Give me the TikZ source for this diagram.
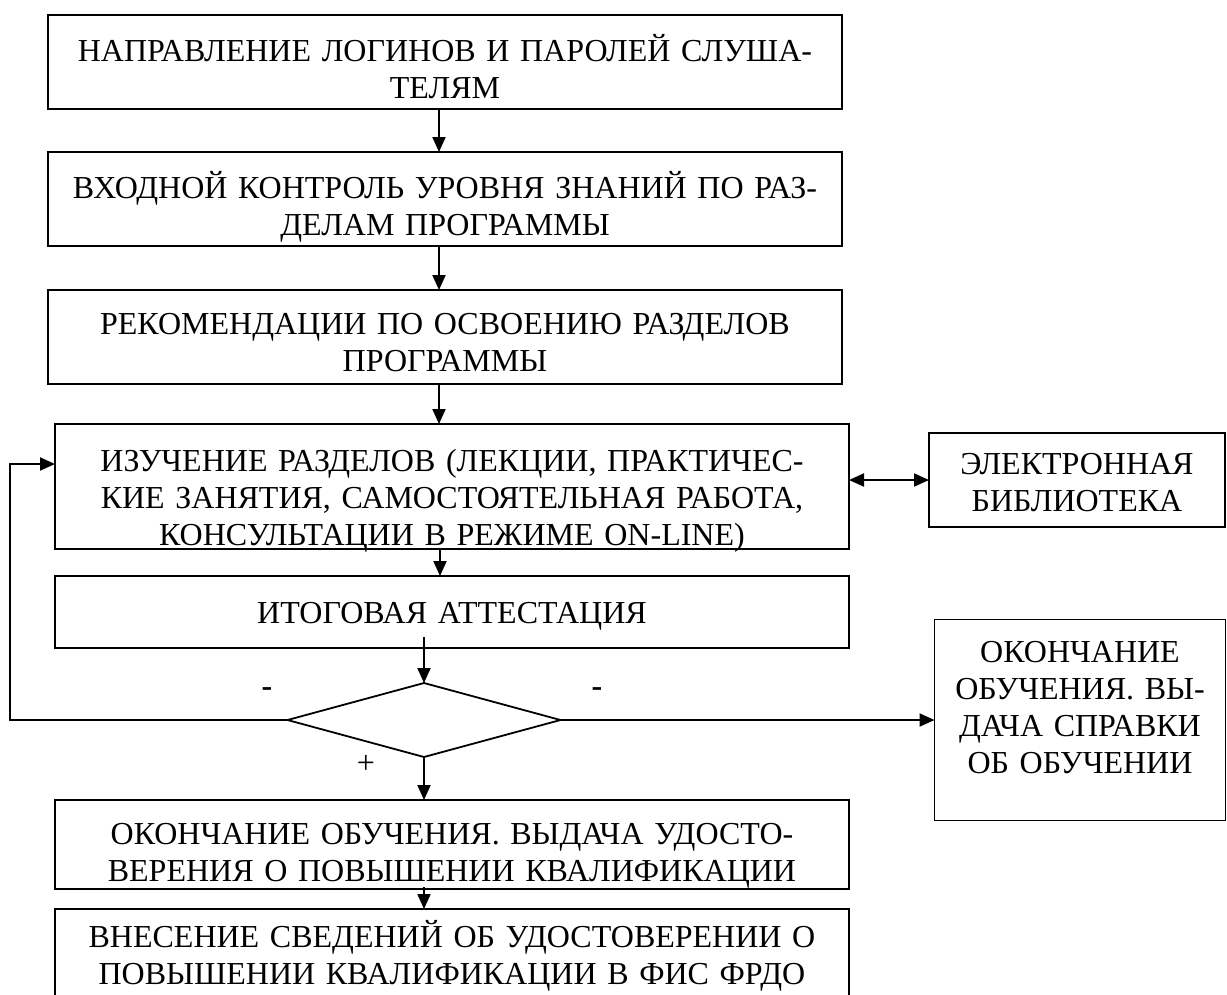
\documentclass[tikz,border=0pt]{standalone}
\usepackage{fontspec}
\setmainfont{Liberation Serif}
\usetikzlibrary{arrows.meta, positioning, shapes.geometric}

\begin{document}
\begin{tikzpicture}[
        x=1pt, y=-1pt,
        box/.style={draw, rectangle, line width=1.8pt, inner sep=0pt, outer sep=0pt, align=center,
            text width=794pt, font=\fontsize{32pt}{37pt}\selectfont},
        arr/.style={line width=2pt, -{Triangle[length=15pt, width=13pt]}},
        arr2/.style={line width=2pt, {Triangle[length=15pt, width=13pt]}-{Triangle[length=15pt, width=13pt]}},
        sign/.style={inner sep=0pt, font=\fontsize{32pt}{37pt}\selectfont},
    ]
    \useasboundingbox (0,0) rectangle (1227,994);

    \node[box, anchor=north, text height=46pt, text depth=48pt] (b1) at (445,15) {НАПРАВЛЕНИЕ ЛОГИНОВ И ПАРОЛЕЙ СЛУША-\\ТЕЛЯМ};
    \node[box, below=43pt of b1, text height=46pt, text depth=48pt] (b2) {ВХОДНОЙ КОНТРОЛЬ УРОВНЯ ЗНАНИЙ ПО РАЗ-\\ДЕЛАМ ПРОГРАММЫ};
    \node[box, below=44pt of b2, text height=44pt, text depth=50pt] (b3) {РЕКОМЕНДАЦИИ ПО ОСВОЕНИЮ РАЗДЕЛОВ\\ПРОГРАММЫ};
    \node[box, below=40pt of b3, xshift=7pt, text height=47pt, text depth=78pt] (b4) {ИЗУЧЕНИЕ РАЗДЕЛОВ (ЛЕКЦИИ, ПРАКТИЧЕС-\\КИЕ ЗАНЯТИЯ, САМОСТОЯТЕЛЬНАЯ РАБОТА,\\КОНСУЛЬТАЦИИ В РЕЖИМЕ ON-LINE)};
    \node[box, below=27pt of b4, text height=47pt, text depth=25pt] (b5) {ИТОГОВАЯ АТТЕСТАЦИЯ};
    \node[diamond, draw, line width=1.8pt, inner sep=0pt, outer sep=0pt, minimum width=273pt, minimum height=74pt,
        below=35pt of b5, xshift=-28pt] (d) {};
    \node[box, below=43pt of d, xshift=28pt, text height=44pt, text depth=45pt] (b6) {ОКОНЧАНИЕ ОБУЧЕНИЯ. ВЫДАЧА УДОСТО-\\ВЕРЕНИЯ О ПОВЫШЕНИИ КВАЛИФИКАЦИИ};
    \node[box, below=20pt of b6, text height=38pt, text depth=100pt] (b7) {ВНЕСЕНИЕ СВЕДЕНИЙ ОБ УДОСТОВЕРЕНИИ О\\ПОВЫШЕНИИ КВАЛИФИКАЦИИ В ФИС ФРДО};

    \node[box, right=80pt of b4, yshift=6.5pt, text width=296pt, text height=41pt, text depth=53pt] (lib) {ЭЛЕКТРОННАЯ\\БИБЛИОТЕКА};
    \node[box, right=374pt of d, text width=291pt, text height=43pt, text depth=158pt] (fin) {ОКОНЧАНИЕ\\ОБУЧЕНИЯ. ВЫ-\\ДАЧА СПРАВКИ\\ОБ ОБУЧЕНИИ};

    \node[sign] (minusL) at (267,692) {\textbf{-}};
    \node[sign] (minusR) at (597,692) {\textbf{-}};
    \node[sign] (plus) at (366,764) {+};
    \coordinate (loop) at (10,720);

    \draw[arr] ([xshift=-6pt]b1.south) -- ([xshift=-6pt]b2.north);
    \draw[arr] ([xshift=-6pt]b2.south) -- ([xshift=-6pt]b3.north);
    \draw[arr] ([xshift=-6pt]b3.south) -- ([xshift=-6pt]b3.south |- b4.north);
    \draw[arr] ([xshift=-12pt]b4.south) -- ([xshift=-12pt]b4.south |- b5.north);
    \draw[arr] ([yshift=11pt]b5.south -| d.north) -- (d.north);
    \draw[arr] (d.south) -- (d.south |- b6.north);
    \draw[arr] ([yshift=2pt]b6.south -| d.south) -- (d.south |- b7.north);
    \draw[arr] (d.west) -- (loop) |- ([yshift=22.5pt]b4.west);
    \draw[arr] (d.east) -- (d.east -| fin.west);
    \draw[arr2] (b4.east |- lib.west) -- (lib.west);
\end{tikzpicture}
\end{document}
